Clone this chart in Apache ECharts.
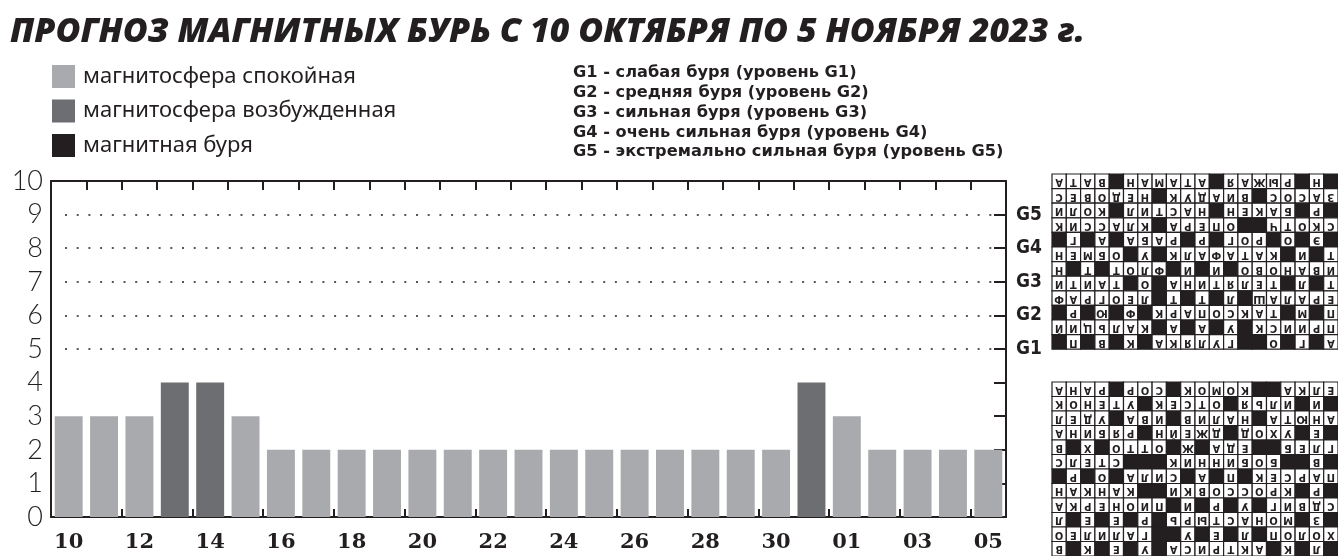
<!DOCTYPE html>
<html><head><meta charset="utf-8">
<script src="https://cdn.jsdelivr.net/npm/echarts@6/dist/echarts.min.js"></script>
<style>html,body{margin:0;padding:0;background:#fff}#c{width:1338px;height:556px}</style>
</head><body><div id="c"></div>
<script>
// ---- data ----
const titleText = 'ПРОГНОЗ МАГНИТНЫХ БУРЬ С 10 ОКТЯБРЯ ПО 5 НОЯБРЯ 2023 г.';
const days = ['10','11','12','13','14','15','16','17','18','19','20','21','22','23','24','25','26','27','28','29','30','31','01','02','03','04','05'];
const kpIndex = [3,3,3,4,4,3,2,2,2,2,2,2,2,2,2,2,2,2,2,2,2,4,3,2,2,2,2];
// 0 = calm, 1 = excited, 2 = storm
const dayState = [0,0,0,1,1,0,0,0,0,0,0,0,0,0,0,0,0,0,0,0,0,1,0,0,0,0,0];
const stateNames = ['магнитосфера спокойная','магнитосфера возбужденная','магнитная буря'];
const stateColors = ['#a9aaad','#6d6e72','#231f20'];
const gValues = [5,6,7,8,9];
const gLabels = ['G1','G2','G3','G4','G5'];
const gDescriptions = [
  'G1 - слабая буря (уровень G1)',
  'G2 - средняя буря (уровень G2)',
  'G3 - сильная буря (уровень G3)',
  'G4 - очень сильная буря (уровень G4)',
  'G5 - экстремально сильная буря (уровень G5)'
];
// crossword fragments seen mirrored (rotated 180°) at the right edge
const crosswordTop = [
  'АТАВ#НАМАТА#ЯАЖЫР#Н#',
  'СЕВОДЕН#КУДАИВ#СОСАЗ',
  'ИЛОК#ЛИТСАН#НЕКАБ#Р#',
  'КИССАЛК#АРЕПО##ЧТОКС',
  '#Г#А#АБАР#Р#ГОР#О#Э#',
  'НЕМБО#У#КЛАФАТАК#И#Т',
  'Н#Т#ТОЛФ#И#И#ОВОНАВИ',
  'ИТИАТ#О#АНИТЯЛЕТ#Л#Т',
  'ФАРГОЕЛ#Т#Т#Л#ШАЛАРЕ',
  '#Р#Ю#Ф#КРАПОСКАТ#М#П',
  'ЙИЦЬЛАК#А#А#У#КСИИРП',
  '#П#В#К#АКЯЛУГ##О#Г#А'
];
const crosswordBottom = [
  'АНАР#РОС#КОМОК##АКЛЕ',
  'КОНЕТУ#КЕСТО#ЯЬЛИ#И#',
  'ЛЕДУ#АВИ#ВИЛАН#АТЮНА',
  'АНИБЯР#НЙЕЖД#ДОХУ#Е#',
  'В#Х#ОТТО#Ж#АДЕ##БЕЛГ',
  'СЛЕТС###КИННИБОБ##В#',
  '#Р#О#АЛИС#А#П#КЕСРАП',
  'НАКНАК##ИКВОССОРК#Р#',
  'АКРЕНОИП#И#Р#У#ГИВДС',
  'Л#Е#Е#Р#ЬРЫТСАНОМ#З#',
  'ОЕЛИЛАГ##У#Е#Л#ПОЛОХ',
  'В#К#Е#У#АСИРТКА#К#Л#'
];

// ---- chart ----
const ink = '#231f20';
const chart = echarts.init(document.getElementById('c'), null, {renderer: 'canvas'});

function crossword(rows, left, top, cw, chh) {
  const children = [];
  rows.forEach((row, r) => {
    Array.from(row).forEach((chr, c) => {
      const x = left + c * cw, y = top + r * chh;
      children.push({type: 'rect', shape: {x: x, y: y, width: cw, height: chh},
        style: {fill: chr === '#' ? ink : '#fff', stroke: ink, lineWidth: 1.2}, silent: true});
      if (chr !== '#') {
        children.push({type: 'text', x: x + cw / 2, y: y + chh / 2 + 0.5, rotation: Math.PI,
          style: {text: chr, fill: ink, font: 'bold 11px "DejaVu Sans Condensed"', align: 'center', verticalAlign: 'middle'}, silent: true});
      }
    });
  });
  return {type: 'group', children: children};
}

const graphics = gDescriptions.map((t, i) => ({
  type: 'text', left: 573, top: 65 + i * 19.8,
  style: {text: t, fill: ink, font: 'bold 16.2px "DejaVu Sans"'}
}));
graphics.push(crossword(crosswordTop, 1052, 174, 14.3, 14.6));
graphics.push(crossword(crosswordBottom, 1052, 382, 14.3, 14.5));

const series = stateNames.map((name, s) => ({
  name: name,
  type: 'bar',
  data: kpIndex.map((v, i) => dayState[i] === s ? v : '-'),
  itemStyle: {color: stateColors[s]},
  barGap: '-100%',
  barCategoryGap: '21%',
  xAxisIndex: 0, yAxisIndex: 0,
  silent: true
}));
series[0].markLine = {
  silent: true, symbol: 'none', label: {show: false},
  lineStyle: {color: ink, type: [2, 9.7], width: 1.6},
  data: gValues.map(v => [{x: 65, yAxis: v}, {x: 1000, yAxis: v}])
};

chart.setOption({
  backgroundColor: '#fff',
  animation: false,
  title: {
    text: titleText, left: 10, top: 15, padding: 0,
    textStyle: {fontFamily: 'Open Sans', fontStyle: 'italic', fontWeight: 800, fontSize: 34, color: ink}
  },
  legend: {
    orient: 'vertical', left: 52, top: 65, padding: 0,
    itemWidth: 23, itemHeight: 23, itemGap: 11.5, icon: 'rect', selectedMode: false,
    data: stateNames,
    textStyle: {fontFamily: 'Noto Sans', fontSize: 22, color: ink, padding: [0, 0, 0, 3]}
  },
  grid: {left: 51, top: 181, width: 955, height: 336, containLabel: false},
  xAxis: [
    {type: 'category', data: days, position: 'bottom',
     axisLine: {show: true, onZero: false, lineStyle: {color: ink, width: 2}},
     axisTick: {show: true, inside: true, length: 8, lineStyle: {color: ink, width: 2}},
     axisLabel: {interval: 1, margin: 15, color: ink, fontFamily: 'DejaVu Serif', fontWeight: 'bold', fontSize: 21},
     splitLine: {show: false}},
    {type: 'category', data: days, position: 'top',
     axisLine: {show: true, onZero: false, lineStyle: {color: ink, width: 2}},
     axisTick: {show: true, inside: true, length: 9, lineStyle: {color: ink, width: 2}},
     axisLabel: {show: false}, splitLine: {show: false}}
  ],
  yAxis: [
    {type: 'value', min: 0, max: 10, interval: 1, position: 'left',
     axisLine: {show: true, onZero: false, lineStyle: {color: ink, width: 2}},
     axisTick: {show: false},
     axisLabel: {margin: 8, color: ink, fontFamily: 'Lato', fontWeight: 300, fontSize: 27},
     splitLine: {show: false}},
    {type: 'value', min: 0, max: 10, interval: 1, position: 'right',
     axisLine: {show: true, onZero: false, lineStyle: {color: ink, width: 2}},
     axisTick: {show: true, inside: true, length: 12, lineStyle: {color: ink, width: 2}},
     axisLabel: {margin: 10, color: ink, fontFamily: 'DejaVu Sans Condensed', fontWeight: 'bold', fontSize: 19,
       formatter: v => { const k = gValues.indexOf(v); return k >= 0 ? gLabels[k] : ''; }},
     splitLine: {show: false}}
  ],
  series: series,
  graphic: graphics
});
</script></body></html>
